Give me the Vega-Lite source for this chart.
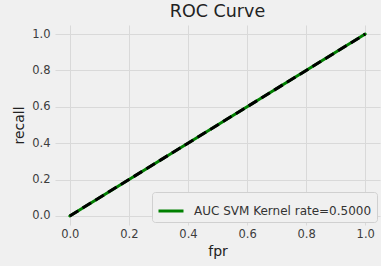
{
  "$schema": "https://vega.github.io/schema/vega-lite/v6.json",
  "width": 325,
  "height": 200,
  "autosize": "none",
  "padding": {"left": 55, "top": 25, "right": 1, "bottom": 41},
  "background": "#f0f0f0",
  "title": {"text": "ROC Curve", "fontSize": 17.5, "font": "DejaVu Sans", "fontWeight": "normal", "color": "#222222", "offset": 5},
  "config": {
    "view": {"stroke": null, "fill": "#f0f0f0"},
    "axis": {
      "labelFont": "DejaVu Sans",
      "titleFont": "DejaVu Sans",
      "labelFontSize": 11.5,
      "labelColor": "#3c3c3c",
      "titleFontSize": 14,
      "titleFontWeight": "normal",
      "titleColor": "#222222",
      "domain": false,
      "ticks": false,
      "gridColor": "#d9d9d9",
      "gridWidth": 1
    },
    "legend": {"labelFont": "DejaVu Sans", "labelFontSize": 12, "labelColor": "#333333", "labelLimit": 0}
  },
  "data": {
    "values": [
      {"fpr": 0, "recall": 0, "series": "AUC SVM Kernel rate=0.5000"},
      {"fpr": 1, "recall": 1, "series": "AUC SVM Kernel rate=0.5000"}
    ]
  },
  "encoding": {
    "x": {"field": "fpr", "type": "quantitative", "scale": {"domain": [-0.05, 1.05], "nice": false, "zero": false},
      "axis": {"values": [0, 0.2, 0.4, 0.6, 0.8, 1.0], "format": ".1f", "title": "fpr", "labelPadding": 3, "titlePadding": 5, "labelFlush": false}},
    "y": {"field": "recall", "type": "quantitative", "scale": {"domain": [-0.05, 1.05], "nice": false, "zero": false},
      "axis": {"values": [0, 0.2, 0.4, 0.6, 0.8, 1.0], "format": ".1f", "title": "recall", "labelPadding": 5, "titlePadding": 5, "labelFlush": false}}
  },
  "layer": [
    {
      "mark": {"type": "line", "strokeWidth": 3, "strokeCap": "round"},
      "encoding": {
        "color": {"field": "series", "type": "nominal", "scale": {"range": ["#008000"]},
          "legend": {"title": null, "orient": "bottom-right", "offset": 3, "symbolType": "stroke", "symbolStrokeWidth": 3, "symbolSize": 625,
            "fillColor": "#f0f0f0", "strokeColor": "#d0d0d0", "cornerRadius": 3, "padding": 5, "labelOffset": 9}}
      }
    },
    {
      "mark": {"type": "line", "strokeWidth": 3, "color": "#000000", "strokeDash": [10, 5]},
      "encoding": {}
    }
  ]
}
